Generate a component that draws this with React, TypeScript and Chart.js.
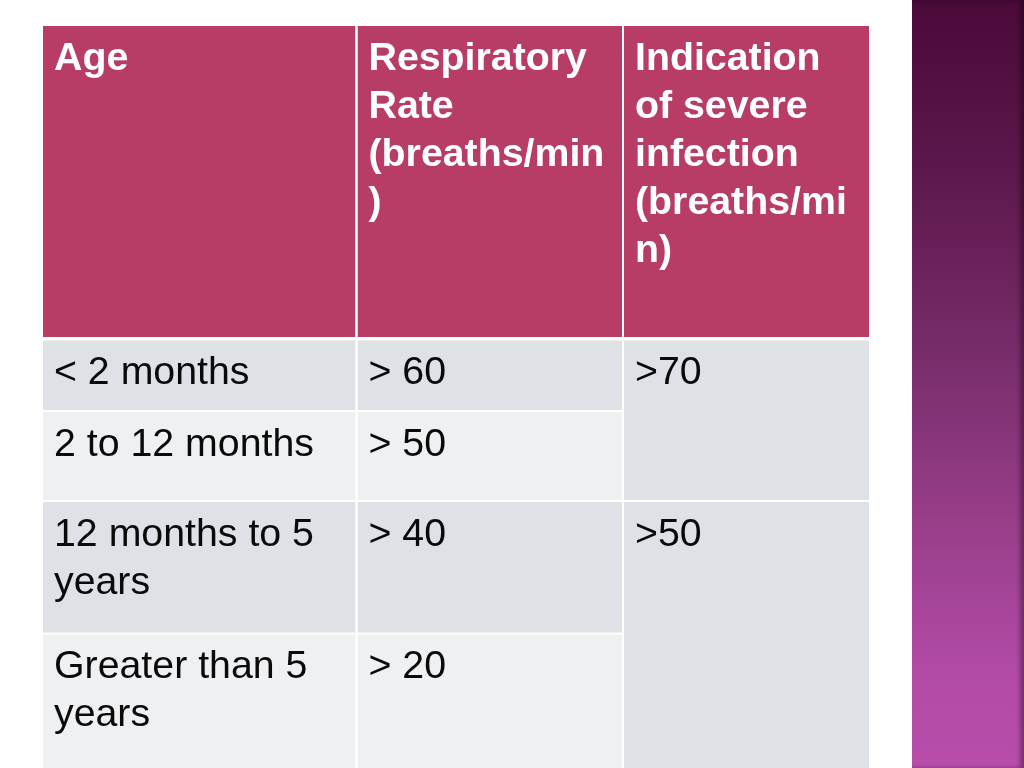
import React, { useEffect, useRef } from "react";
import { Chart, registerables } from "chart.js";

Chart.register(...registerables);

// ---- table content ----
const headerLines: string[][] = [
  ["Age"],
  ["Respiratory", "Rate", "(breaths/min", ")"],
  ["Indication", "of severe", "infection", "(breaths/mi", "n)"],
];
const ageGroups: string[][] = [
  ["< 2 months"],
  ["2 to 12 months"],
  ["12 months to 5", "years"],
  ["Greater than 5", "years"],
];
const respiratoryRates: string[] = ["> 60", "> 50", "> 40", "> 20"];
const severeInfection: string[] = [">70", ">50"];
const severeSpans: number[][] = [
  [0, 1],
  [2, 3],
];

// ---- layout (table units) ----
const colEdges = [0, 313.5, 580, 826];
const rowEdges = [0, 312.75, 385, 475, 607.5, 742];

const HEADER_BG = "#B83D66";
const ROW_DARK = "#DEE1E5";
const ROW_LIGHT = "#EEF0F2";
const FONT_FAMILY = "'Liberation Sans', Arial, sans-serif";

type Cell = {
  c0: number;
  c1: number;
  r0: number;
  r1: number;
  color: string;
  lines: string[];
  header: boolean;
};

function buildCells(): Cell[] {
  const cells: Cell[] = [];
  headerLines.forEach((lines, c) =>
    cells.push({ c0: c, c1: c + 1, r0: 0, r1: 1, color: HEADER_BG, lines, header: true })
  );
  ageGroups.forEach((lines, i) => {
    const color = i % 2 === 0 ? ROW_DARK : ROW_LIGHT;
    cells.push({ c0: 0, c1: 1, r0: i + 1, r1: i + 2, color, lines, header: false });
    cells.push({
      c0: 1,
      c1: 2,
      r0: i + 1,
      r1: i + 2,
      color,
      lines: [respiratoryRates[i]],
      header: false,
    });
  });
  severeSpans.forEach((span, k) =>
    cells.push({
      c0: 2,
      c1: 3,
      r0: span[0] + 1,
      r1: span[1] + 2,
      color: ROW_DARK,
      lines: [severeInfection[k]],
      header: false,
    })
  );
  return cells;
}

function rectOf(cell: Cell) {
  const lastCol = colEdges.length - 1;
  const lastRow = rowEdges.length - 1;
  const edgeGap = (r: number) => (r === 1 ? 1.75 : 1);
  const x0 = colEdges[cell.c0] + (cell.c0 > 0 ? 1 : 0);
  const x1 = colEdges[cell.c1] - (cell.c1 < lastCol ? 1 : 0);
  const y0 = rowEdges[cell.r0] + (cell.r0 > 0 ? edgeGap(cell.r0) : 0);
  const y1 = rowEdges[cell.r1] - (cell.r1 < lastRow ? edgeGap(cell.r1) : 0);
  return { x0, x1, y0, y1 };
}

export default function App() {
  const canvasRef = useRef<HTMLCanvasElement | null>(null);

  useEffect(() => {
    if (!canvasRef.current) return;
    const cells = buildCells();

    const datasets = cells.map((cell) => {
      const r = rectOf(cell);
      return {
        data: [
          { x: r.x0, y: r.y0 },
          { x: r.x1, y: r.y0 },
        ],
        fill: { value: r.y1 },
        backgroundColor: cell.color,
        borderColor: cell.color,
        borderWidth: 0,
        pointRadius: 0,
        tension: 0,
      };
    });

    const textPlugin = {
      id: "cellText",
      afterDatasetsDraw(chart: any) {
        const { ctx } = chart;
        const xs = chart.scales.x;
        const ys = chart.scales.y;
        ctx.save();
        ctx.textBaseline = "alphabetic";
        ctx.textAlign = "left";
        cells.forEach((cell) => {
          const r = rectOf(cell);
          const px = xs.getPixelForValue(r.x0) + 11;
          const py = ys.getPixelForValue(r.y0) + 43.5;
          ctx.font = `${cell.header ? "bold " : ""}39.3px ${FONT_FAMILY}`;
          ctx.fillStyle = cell.header ? "#FFFFFF" : "#0A0A0A";
          cell.lines.forEach((line, j) => ctx.fillText(line, px, py + j * 48));
        });
        ctx.restore();
      },
    };

    const chart = new Chart(canvasRef.current, {
      type: "line",
      data: { datasets: datasets as any },
      options: {
        responsive: false,
        animation: false,
        devicePixelRatio: 1,
        layout: { padding: { left: 43, top: 26, right: 155, bottom: 0 } },
        plugins: { legend: { display: false }, tooltip: { enabled: false } },
        scales: {
          x: { type: "linear", min: 0, max: 826, display: false },
          y: { type: "linear", min: 0, max: 742, reverse: true, display: false },
        },
      },
      plugins: [textPlugin],
    });

    return () => chart.destroy();
  }, []);

  return (
    <div
      style={{
        position: "fixed",
        left: 0,
        top: 0,
        width: 1024,
        height: 768,
        background: "#FFFFFF",
        overflow: "hidden",
      }}
    >
      <canvas
        ref={canvasRef}
        width={1024}
        height={768}
        style={{ position: "absolute", left: 0, top: 0, width: 1024, height: 768 }}
      />
      <div
        style={{
          position: "absolute",
          left: 912,
          top: 0,
          width: 112,
          height: 768,
          background:
            "linear-gradient(to bottom, #4A0A3A 0%, #5C184C 22%, #762C68 45%, #983E8A 68%, #B24BA6 88%, #B84DAA 100%)",
          boxShadow: "inset -4px 0 4px rgba(0,0,0,0.35)",
        }}
      />
    </div>
  );
}
